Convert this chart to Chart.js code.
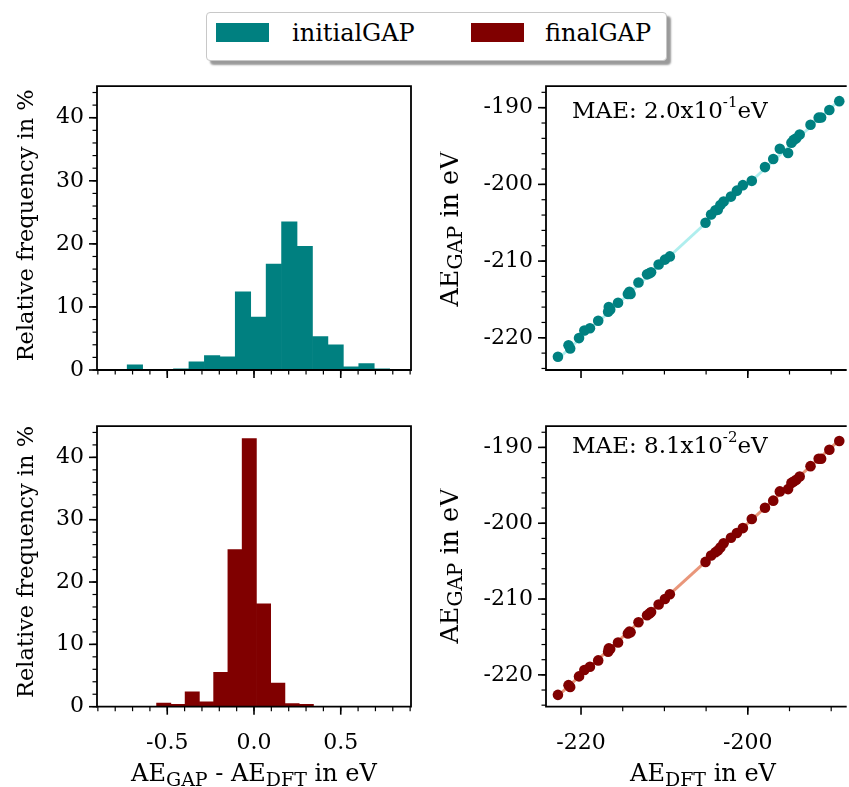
<!DOCTYPE html>
<html>
<head>
<meta charset="utf-8">
<script src="https://cdn.jsdelivr.net/npm/chart.js@4.4.0/dist/chart.umd.min.js"></script>
<style>
html,body{margin:0;padding:0;background:#fff;}
#wrap{position:relative;width:849px;height:787px;overflow:hidden;background:#fff;}
#wrap canvas{position:absolute;}
#legend{position:absolute;left:206px;top:12px;width:459px;height:47px;border:1px solid #c8c8c8;border-radius:4px;background:#fff;box-shadow:4px 4px 2px #9a9a9a;font-family:"DejaVu Serif",serif;font-size:24px;color:#000;}
.sw{position:absolute;top:10px;width:53px;height:19px;}
.lt{position:absolute;top:6px;line-height:28px;white-space:nowrap;}
</style>
</head>
<body>
<div id="wrap">
  <div id="legend"></div>
  <canvas id="c1" width="440" height="340" style="left:0;top:60px;width:440px;height:340px"></canvas>
  <canvas id="c2" width="440" height="387" style="left:0;top:400px;width:440px;height:387px"></canvas>
  <canvas id="c3" width="409" height="340" style="left:440px;top:60px;width:409px;height:340px"></canvas>
  <canvas id="c4" width="409" height="387" style="left:440px;top:400px;width:409px;height:387px"></canvas>
</div>
<script>
// ---------------- DATA ----------------
const legendLabels = ['initialGAP', 'finalGAP'];
const seriesColors = ['#008080', '#800000'];
const diagColors = ['#afeeee', '#e9967a'];

// histogram of AE_GAP - AE_DFT (bin centres in eV, relative frequency in %)
const histInitialBins = [-0.6865, -0.5975, -0.5085, -0.4195, -0.3305, -0.2415, -0.1525, -0.0635, 0.0255,
                          0.1145, 0.2035, 0.2925, 0.3815, 0.4705, 0.5595, 0.6485, 0.7375, 0.8265];
const histInitialFreq = [0.8, 0, 0, 0.2, 1.3, 2.3, 2.1, 12.4, 8.4, 16.8, 23.5, 19.6, 5.3, 4.0, 0.5, 1.0, 0.2, 0.1];

const histFinalBins = [-0.5204, -0.4382, -0.3560, -0.2738, -0.1916, -0.1094, -0.0272, 0.0550, 0.1372, 0.2194, 0.3016];
const histFinalFreq = [0.6, 0.4, 2.4, 0.8, 5.5, 25.2, 43.0, 16.5, 3.8, 0.5, 0.4];

// parity plots (eV)
const aeDFT = [-222.77, -221.5, -221.3, -220.24, -219.6, -218.93, -217.94, -216.75, -216.67, -216.5, -215.56,
               -214.38, -214.2, -214.06, -213.11, -212.08, -211.8, -211.6, -210.69, -209.94, -209.35,
               -205.07, -204.4, -203.88, -203.6, -203.29, -202.9, -202.02, -201.31, -200.59, -199.52,
               -197.94, -196.95, -196.16, -195.17, -194.77, -194.5, -194.18, -193.78, -192.48, -191.5,
               -191.21, -190.22, -189.03];
const aeGAPInitial = [-222.47, -220.98, -221.4, -220.04, -219.06, -218.76, -217.78, -216.59, -215.99, -216.3, -215.44,
               -214.29, -214.0, -214.29, -212.8, -211.73, -211.6, -211.47, -210.45, -209.81, -209.39,
               -205.0, -203.93, -203.38, -203.3, -202.7, -202.23, -201.59, -200.82, -200.1, -199.54,
               -197.75, -196.69, -195.35, -195.9, -194.56, -194.2, -194.0, -193.49, -192.22, -191.3,
               -191.28, -190.3, -189.15];
const aeGAPFinal = [-222.64, -221.36, -221.6, -220.2, -219.36, -218.94, -218.09, -216.94, -216.51, -216.6, -215.74,
               -214.55, -214.3, -214.38, -213.06, -212.13, -211.9, -211.7, -210.72, -210.0, -209.36,
               -205.1, -204.26, -203.83, -203.6, -203.19, -202.64, -201.91, -201.28, -200.64, -199.45,
               -197.96, -197.02, -195.8, -195.5, -194.68, -194.5, -194.26, -193.83, -192.47, -191.5,
               -191.49, -190.3, -189.15];
const diagonal = [-222.8, -189.0];
const maeMantissa = ['2.0x10', '8.1x10'];
const maeExponent = ['-1', '-2'];

// ticks
const histXTicks = [-0.5, 0, 0.5];
const histXTickLabels = ['-0.5', '0.0', '0.5'];
const histYTicks = [0, 10, 20, 30, 40];
const histYTickLabels = ['0', '10', '20', '30', '40'];
const scatXTicks = [-220, -200];
const scatXTickLabels = ['-220', '-200'];
const scatYTicks = [-220, -210, -200, -190];
const scatYTickLabels = ['-220', '-210', '-200', '-190'];

// --------------- helpers ---------------
const FONT = '"DejaVu Serif", serif';
function range(a, b, s) { const r = []; const n = Math.round((b - a) / s); for (let i = 0; i <= n; i++) r.push(+(a + i * s).toFixed(6)); return r; }

document.getElementById('legend').innerHTML = legendLabels.map((l, i) =>
  `<div class="sw" style="left:${9 + i * 255}px;background:${seriesColors[i]}"></div>` +
  `<div class="lt" style="left:${85 + i * 253}px">${l}</div>`).join('');

const framePlugin = {
  id: 'frame',
  afterDraw(chart, args, o) {
    const { ctx, chartArea: a, scales } = chart;
    const sx = scales.x, sy = scales.y;
    ctx.save();
    ctx.strokeStyle = '#000';
    const tx = (vals, len, w) => vals.forEach(v => {
      const x = sx.getPixelForValue(v);
      ctx.lineWidth = w; ctx.beginPath(); ctx.moveTo(x, a.bottom); ctx.lineTo(x, a.bottom + len); ctx.stroke();
    });
    const ty = (vals, len, w) => vals.forEach(v => {
      const y = sy.getPixelForValue(v);
      ctx.lineWidth = w; ctx.beginPath(); ctx.moveTo(a.left, y); ctx.lineTo(a.left - len, y); ctx.stroke();
    });
    tx(o.xMinor, 4.5, 1.2); tx(o.xMajor, 8, 1.6);
    ty(o.yMinor, 4.5, 1.2); ty(o.yMajor, 8, 1.6);
    ctx.lineWidth = 1.8;
    ctx.beginPath();
    if (o.right) {
      ctx.rect(a.left, a.top, a.right - a.left, a.bottom - a.top);
    } else {
      ctx.moveTo(a.right + 3, a.top); ctx.lineTo(a.left, a.top); ctx.lineTo(a.left, a.bottom); ctx.lineTo(a.right + 3, a.bottom);
    }
    ctx.stroke();
    ctx.restore();
  }
};

const textPlugin = {
  id: 'richText',
  afterDraw(chart, args, o) {
    const ctx = chart.ctx;
    (o.items || []).forEach(it => {
      ctx.save();
      ctx.fillStyle = '#000';
      ctx.textBaseline = 'alphabetic';
      ctx.textAlign = 'left';
      let w = 0;
      it.parts.forEach(p => { ctx.font = `${p.s}px ${FONT}`; p.w = ctx.measureText(p.t).width; w += p.w; });
      ctx.translate(it.x, it.y);
      if (it.rot) ctx.rotate(-Math.PI / 2);
      let x = it.align === 'left' ? 0 : -w / 2;
      it.parts.forEach(p => { ctx.font = `${p.s}px ${FONT}`; ctx.fillText(p.t, x, p.dy || 0); x += p.w; });
      ctx.restore();
    });
  }
};

function axis(min, max, ticks, labels, showLabels, size, pad, horizontal) {
  return {
    type: 'linear', min, max, offset: false,
    grid: { display: true, drawOnChartArea: false, drawTicks: false, offset: false },
    border: { display: false },
    afterBuildTicks: s => { s.ticks = ticks.map(v => ({ value: v })); },
    afterFit: s => { if (horizontal) s.height = size; else s.width = size; },
    ticks: {
      display: showLabels, padding: pad, autoSkip: false, maxRotation: 0, minRotation: 0,
      color: '#000', font: { family: FONT, size: 22 },
      callback: (v, i) => labels[i]
    }
  };
}

const SUB = 19;
const yTitleHist = (y) => ({ x: 33, y, rot: true, parts: [{ t: 'Relative frequency in %', s: 22.5 }] });
const yTitleScat = (y) => ({ x: 18, y, rot: true, parts: [{ t: 'AE', s: 25.5 }, { t: 'GAP', s: 20, dy: 4 }, { t: ' in eV', s: 25.5 }] });

function hist(id, bins, freq, color, bottom) {
  const xh = bottom ? 80.3 : 30;
  const items = [yTitleHist(bottom ? 162 : 165.3)];
  if (bottom) items.push({ x: 254, y: 381, parts: [{ t: 'AE', s: 24 }, { t: 'GAP', s: SUB, dy: 4.5 }, { t: ' - AE', s: 24 }, { t: 'DFT', s: SUB, dy: 4.5 }, { t: ' in eV', s: 24 }] });
  new Chart(document.getElementById(id), {
    type: 'bar',
    data: { datasets: [{ data: bins.map((b, i) => ({ x: b, y: freq[i] })), backgroundColor: color, borderWidth: 0, barPercentage: 1, categoryPercentage: 1 }] },
    options: {
      responsive: false, animation: false, events: [],
      layout: { padding: { left: 0, top: bottom ? 17.3 : 20.7, right: 29, bottom: 0 } },
      scales: {
        x: axis(-0.905, 0.905, histXTicks, histXTickLabels, bottom, xh, 23, true),
        y: axis(0, 45, histYTicks, histYTickLabels, true, 97, 13, false)
      },
      plugins: {
        legend: { display: false }, tooltip: { enabled: false },
        frame: { xMajor: histXTicks, xMinor: range(-0.9, 0.9, 0.1), yMajor: histYTicks, yMinor: range(0, 44, 2), right: true },
        richText: { items }
      }
    },
    plugins: [framePlugin, textPlugin]
  });
}

function parity(id, gap, k, bottom) {
  const xh = bottom ? 80.3 : 30;
  const items = [yTitleScat(bottom ? 166 : 169),
    { x: 132, y: bottom ? 53 : 58, align: 'left', parts: [{ t: 'MAE: ' + maeMantissa[k], s: 23 }, { t: maeExponent[k], s: 15, dy: -11 }, { t: 'eV', s: 23 }] }];
  if (bottom) items.push({ x: 263, y: 381, parts: [{ t: 'AE', s: 24 }, { t: 'DFT', s: SUB, dy: 4.5 }, { t: ' in eV', s: 24 }] });
  new Chart(document.getElementById(id), {
    type: 'scatter',
    data: {
      datasets: [
        { data: aeDFT.map((x, i) => ({ x, y: gap[i] })), backgroundColor: seriesColors[k], borderWidth: 0, pointRadius: 5.3, clip: false },
        { type: 'line', data: diagonal.map(v => ({ x: v, y: v })), showLine: true, borderColor: diagColors[k], borderWidth: 3, pointRadius: 0, fill: false }
      ]
    },
    options: {
      responsive: false, animation: false, events: [],
      layout: { padding: { left: 0, top: bottom ? 17.3 : 20.7, right: 0, bottom: 0 } },
      scales: {
        x: axis(-224.2, -188.5, scatXTicks, scatXTickLabels, bottom, xh, 23, true),
        y: axis(-224.2, -187.2, scatYTicks, scatYTickLabels, true, 106, 13, false)
      },
      plugins: {
        legend: { display: false }, tooltip: { enabled: false },
        frame: { xMajor: scatXTicks, xMinor: range(-215, -190, 5), yMajor: scatYTicks, yMinor: range(-224, -188, 2), right: false },
        richText: { items }
      }
    },
    plugins: [framePlugin, textPlugin]
  });
}

hist('c1', histInitialBins, histInitialFreq, seriesColors[0], false);
hist('c2', histFinalBins, histFinalFreq, seriesColors[1], true);
parity('c3', aeGAPInitial, 0, false);
parity('c4', aeGAPFinal, 1, true);
</script>
</body>
</html>
